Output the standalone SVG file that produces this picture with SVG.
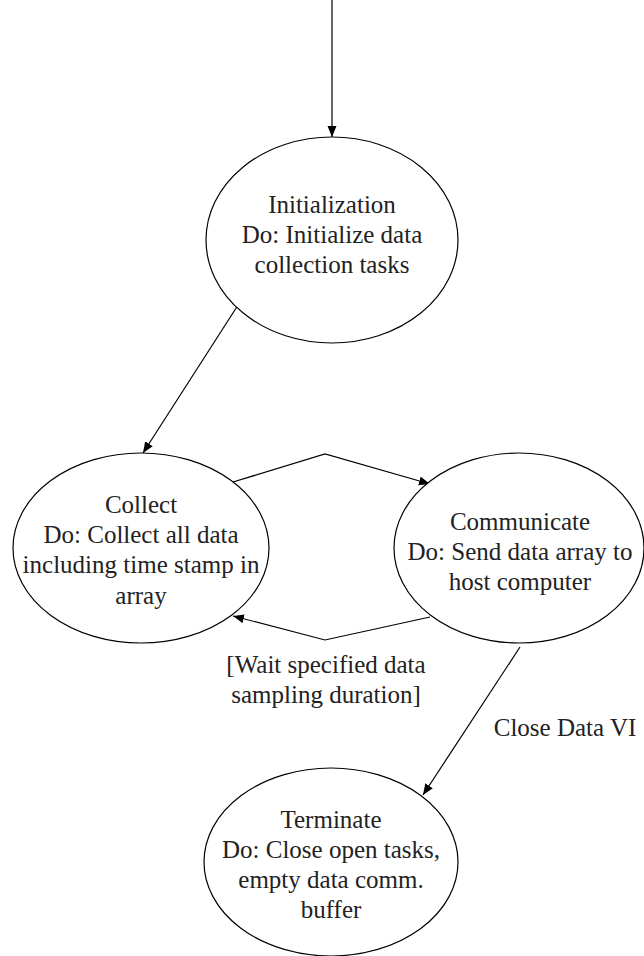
<svg xmlns="http://www.w3.org/2000/svg" width="644" height="956" viewBox="0 0 644 956">
<defs>
<style>
.st{fill:#fff;stroke:#000;stroke-width:1.2}
.t{font-family:"Liberation Serif","Times New Roman",serif;font-size:25px;fill:#222;text-anchor:middle}
.e{fill:none;stroke:#000;stroke-width:1.2}
</style>
<marker id="arr" markerUnits="userSpaceOnUse" markerWidth="12" markerHeight="10" refX="11" refY="4.5" orient="auto">
<path d="M0,0 L11,4.5 L0,9 Z" fill="#000"/>
</marker>
</defs>
<rect width="644" height="956" fill="#fff"/>
<g id="connectors">
<path class="e" d="M332,0 L332,137" marker-end="url(#arr)"/>
<path class="e" d="M240,302 L143,453" marker-end="url(#arr)"/>
<path class="e" d="M233,482 L325,454 L430,484" marker-end="url(#arr)"/>
<path class="e" d="M430,617 L325,640 L233,616" marker-end="url(#arr)"/>
<path class="e" d="M520,647 L423,795" marker-end="url(#arr)"/>
<text class="t" x="326" y="673">[Wait specified data</text>
<text class="t" x="326" y="703">sampling duration]</text>
<text class="t" x="565" y="736">Close Data VI</text>
</g>
<g id="initialization">
<ellipse class="st" cx="332" cy="240" rx="126" ry="103"/>
<text class="t" x="332" y="213">Initialization</text>
<text class="t" x="332" y="243">Do: Initialize data</text>
<text class="t" x="332" y="273">collection tasks</text>
</g>
<g id="collect">
<ellipse class="st" cx="141" cy="548" rx="128" ry="95"/>
<text class="t" x="141" y="513">Collect</text>
<text class="t" x="141" y="543">Do: Collect all data</text>
<text class="t" x="141" y="573">including time stamp in</text>
<text class="t" x="141" y="604">array</text>
</g>
<g id="communicate">
<ellipse class="st" cx="519" cy="548" rx="125" ry="95"/>
<text class="t" x="520" y="530">Communicate</text>
<text class="t" x="520" y="560">Do: Send data array to</text>
<text class="t" x="520" y="590">host computer</text>
</g>
<g id="terminate">
<ellipse class="st" cx="331" cy="862" rx="127" ry="94"/>
<text class="t" x="331" y="828">Terminate</text>
<text class="t" x="331" y="858">Do: Close open tasks,</text>
<text class="t" x="331" y="888">empty data comm.</text>
<text class="t" x="331" y="918">buffer</text>
</g>
</svg>
